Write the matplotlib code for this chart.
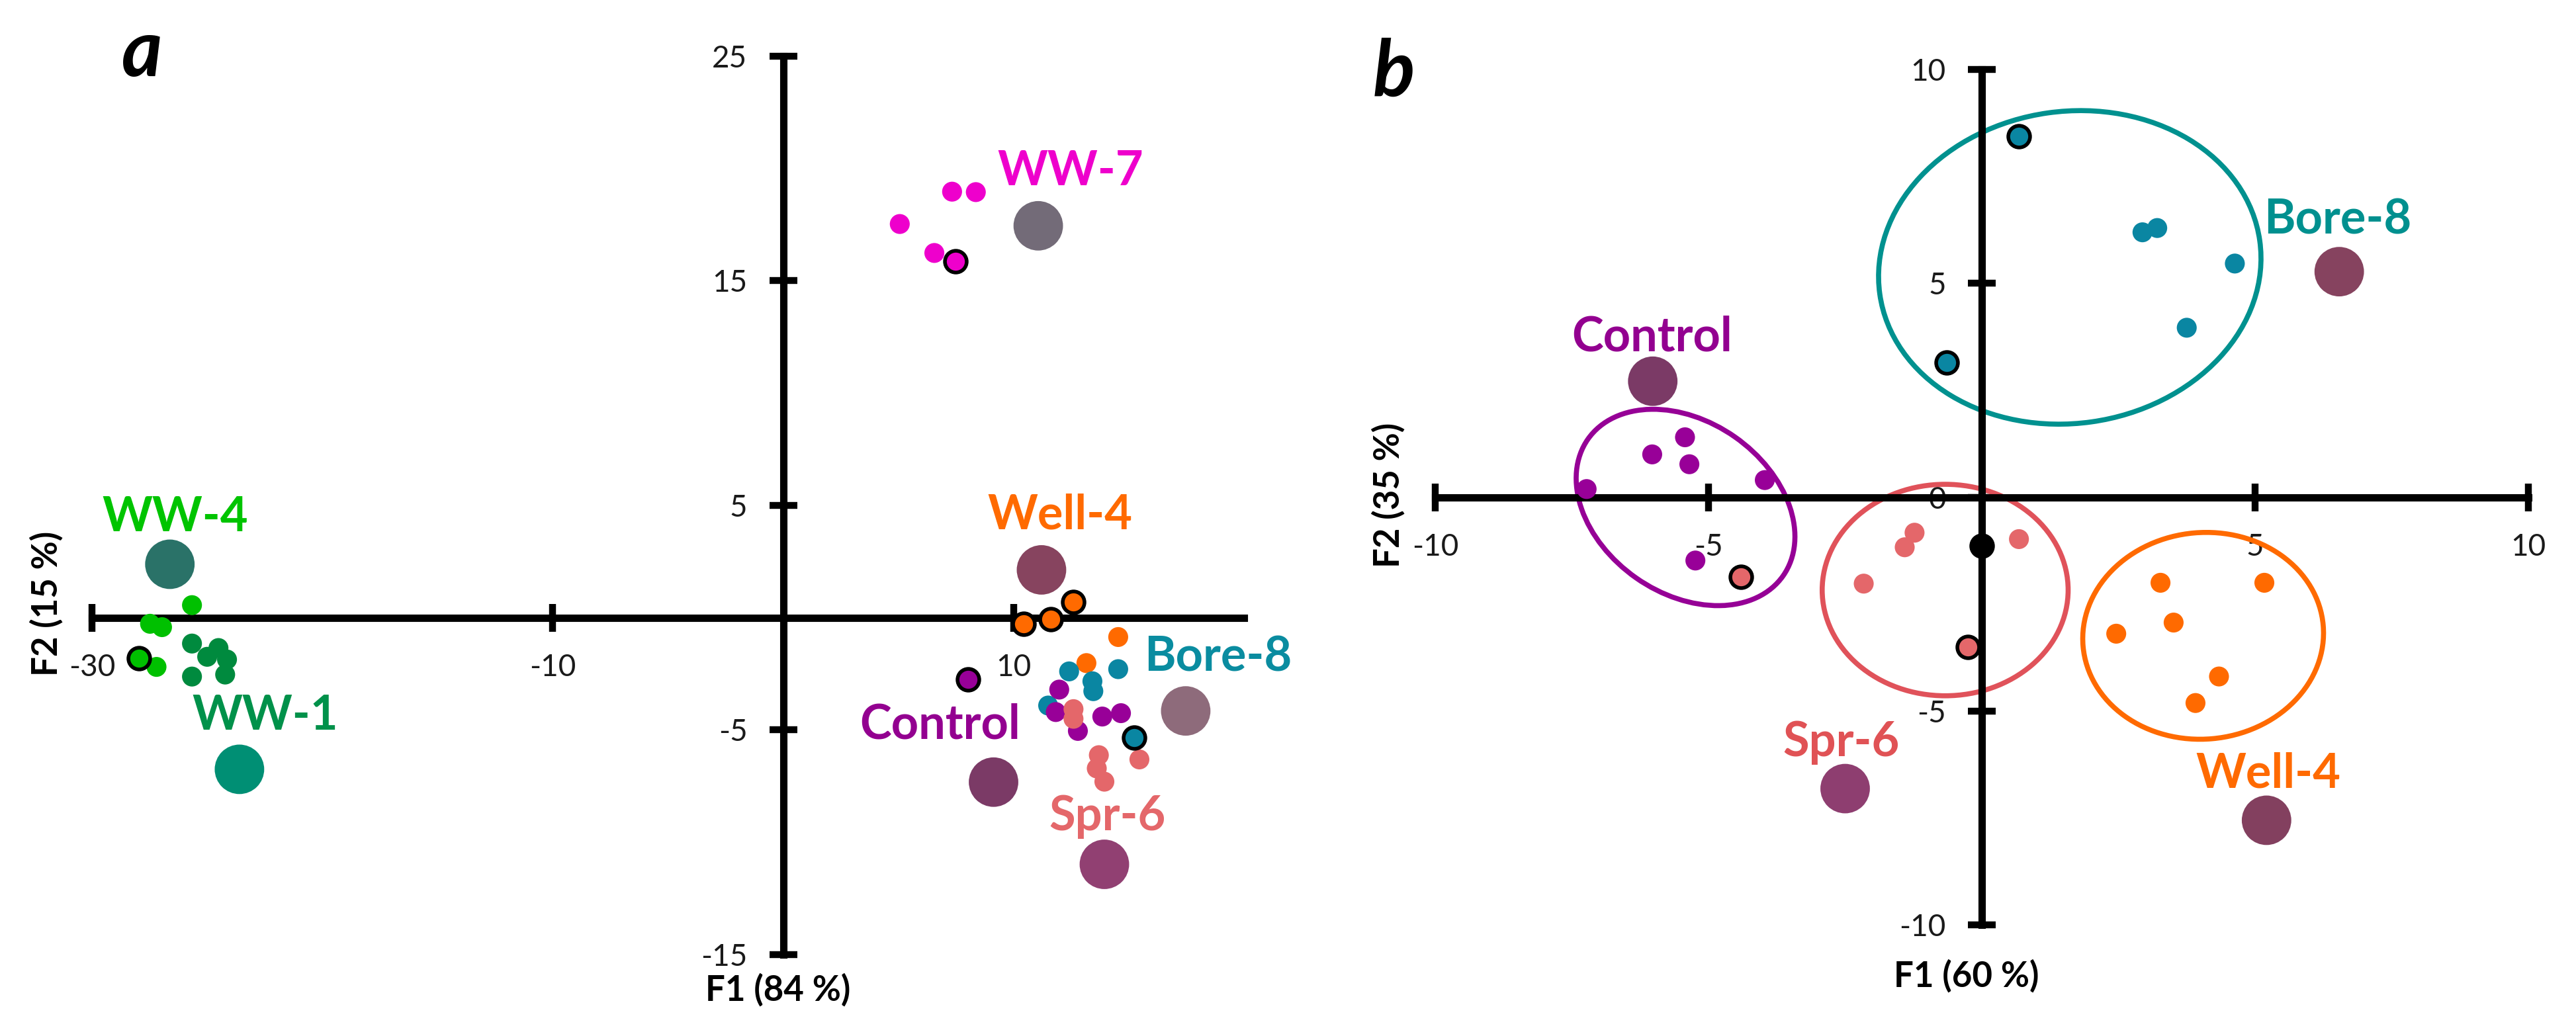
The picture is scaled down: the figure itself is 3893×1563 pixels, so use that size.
import matplotlib
matplotlib.use('Agg')
import matplotlib.pyplot as plt
from matplotlib.patches import Ellipse
import matplotlib.transforms as mtransforms

FONT = ['Lato', 'DejaVu Sans']
plt.rcParams['font.family'] = FONT

# ---------------- Panel a data (F1 84 %, F2 15 %) ----------------
a_groups = ['WW-7', 'WW-4', 'WW-1', 'Well-4', 'Bore-8', 'Control', 'Spr-6']
a_ww7_x = [7.33, 8.36, 5.06, 6.56]
a_ww7_y = [18.97, 18.95, 17.53, 16.24]
a_ww7_ex = [7.47]
a_ww7_ey = [15.88]
a_ww4_x = [-25.66, -27.48, -26.96, -27.20]
a_ww4_y = [0.56, -0.27, -0.42, -2.19]
a_ww4_ex = [-27.96]
a_ww4_ey = [-1.80]
a_ww1_x = [-25.66, -24.51, -25.00, -24.14, -25.66, -24.22]
a_ww1_y = [-1.15, -1.35, -1.74, -1.86, -2.62, -2.53]
a_ww1_ex = []
a_ww1_ey = []
a_well4_x = [14.54, 13.16]
a_well4_y = [-0.86, -2.02]
a_well4_ex = [10.44, 11.62, 12.58]
a_well4_ey = [-0.27, -0.08, 0.69]
a_bore8_x = [14.54, 12.41, 13.42, 13.46, 11.50]
a_bore8_y = [-2.29, -2.39, -2.83, -3.27, -3.91]
a_bore8_ex = [15.24]
a_bore8_ey = [-5.33]
a_ctrl_x = [11.98, 11.83, 12.79, 13.85, 14.66]
a_ctrl_y = [-3.20, -4.20, -5.04, -4.40, -4.25]
a_ctrl_ex = [8.02]
a_ctrl_ey = [-2.75]
a_spr6_x = [12.60, 12.60, 13.70, 13.61, 13.94, 15.46]
a_spr6_y = [-4.07, -4.50, -6.12, -6.71, -7.30, -6.31]
a_spr6_ex = []
a_spr6_ey = []
# reference (large) points
a_big_x = [11.07, -26.62, -23.60, 11.21, 17.47, 9.13, 13.94]
a_big_y = [17.45, 2.38, -6.75, 2.13, -4.15, -7.32, -10.98]
# group label anchors (left, baseline)
a_lab_x = [9.29, -29.55, -25.66, 8.86, 15.68, 3.31, 11.54]
a_lab_y = [19.26, 3.86, -4.98, 3.95, -2.39, -5.39, -9.46]
a_xticks = [-30, -10, 10]
a_yticks = [-15, -5, 5, 15, 25]

# ---------------- Panel b data (F1 60 %, F2 35 %) ----------------
b_groups = ['Control', 'Bore-8', 'Spr-6', 'Well-4']
b_ctrl_x = [-5.43, -6.03, -5.35, -3.97, -7.23, -5.24]
b_ctrl_y = [1.40, 1.00, 0.77, 0.40, 0.19, -1.48]
b_ctrl_ex = []
b_ctrl_ey = []
b_bore8_x = [2.94, 3.21, 4.63, 3.75]
b_bore8_y = [6.19, 6.29, 5.46, 3.96]
b_bore8_ex = [0.68, -0.64]
b_bore8_ey = [8.44, 3.14]
b_spr6_x = [0.68, -1.23, -1.41, -2.16]
b_spr6_y = [-0.98, -0.83, -1.17, -2.02]
b_spr6_ex = [-4.41, -0.26]
b_spr6_ey = [-1.86, -3.50]
b_dark_x = [0.0]
b_dark_y = [-1.13]
b_well4_x = [3.27, 5.17, 3.51, 2.46, 4.34, 3.91]
b_well4_y = [-2.00, -2.00, -2.93, -3.19, -4.19, -4.81]
b_well4_ex = []
b_well4_ey = []
b_big_x = [-6.02, 6.54, -2.50, 5.21]
b_big_y = [2.71, 5.27, -6.81, -7.55]
b_lab_x = [-7.50, 5.16, -3.64, 3.92]
b_lab_y = [3.42, 6.16, -6.05, -6.78]
# confidence ellipses: centre, full width / height (x-units), angle (deg)
b_ell_cx = [-5.42, 1.61, -0.67, 4.05]
b_ell_cy = [-0.24, 5.37, -2.17, -3.24]
b_ell_w = [4.36, 7.02, 4.50, 4.41]
b_ell_h = [3.15, 5.71, 3.87, 3.78]
b_ell_ang = [-35, 8, 0, 5]
b_xticks = [-10, -5, 5, 10]
b_yticks = [-10, -5, 0, 5, 10]

# ---------------- styles ----------------
C_WW7 = '#EE00CC'
C_WW4 = '#00C000'
C_WW1 = '#008A3E'
C_WELL = '#FF6A00'
C_BORE = '#0A86A2'
C_CTRL = '#980098'
C_SPR = '#E4676A'
a_dot_col = [C_WW7, C_WW4, C_WW1, C_WELL, C_BORE, C_CTRL, C_SPR]
a_lab_col = ['#EE00CC', '#00C400', '#00914A', '#FF6A00', '#0A8CA0', '#930090', '#E4676A']
a_big_col = ['#736B78', '#2A7268', '#008F74', '#87445F', '#8E6B7B', '#7B3A66', '#914072']
b_dot_col = [C_CTRL, C_BORE, C_SPR, C_WELL]
b_lab_col = ['#930090', '#00908F', '#E05255', '#FF6A00']
b_big_col = ['#7B3A66', '#86435F', '#8E3E70', '#83405F']
b_ell_col = ['#960096', '#00918F', '#E0525A', '#FF6A00']

DOT_S = 470
EDGE_S = 560
BIG_S = 2900

fig = plt.figure(figsize=(38.93, 15.63), dpi=100)
axa = fig.add_axes([0.03571, 0.07678, 0.44721, 0.86884])
axb = fig.add_axes([0.55715, 0.10531, 0.42435, 0.82771])


def setup(ax, xlim, ylim, xticks, yticks):
    ax.set_xlim(xlim)
    ax.set_ylim(ylim)
    ax.patch.set_alpha(0)
    for s in ['top', 'right']:
        ax.spines[s].set_visible(False)
    for s in ['left', 'bottom']:
        ax.spines[s].set_position(('data', 0))
        ax.spines[s].set_linewidth(8)
        ax.spines[s].set_color('black')
        ax.spines[s].set_zorder(2.5)
    ax.set_xticks(xticks)
    ax.set_yticks(yticks)
    ax.set_xticklabels([str(t) for t in xticks])
    ax.set_yticklabels([str(t) for t in yticks])
    ax.tick_params(direction='inout', length=30, width=7.5, pad=24,
                   labelsize=33, labelcolor='#1a1a1a', color='black')


setup(axa, (-30, 20), (-15, 25), a_xticks, a_yticks)
setup(axb, (-10, 10), (-10, 10), b_xticks, b_yticks)


def dots(ax, xs, ys, col, edge=False, face=None):
    if not xs:
        return
    if edge:
        ax.scatter(xs, ys, s=EDGE_S, c=face if face else col, edgecolors='black',
                   linewidths=4, zorder=5, clip_on=False)
    else:
        ax.scatter(xs, ys, s=DOT_S, c=col, edgecolors='none', zorder=4, clip_on=False)


# panel a points
a_plain = [(a_ww7_x, a_ww7_y), (a_ww4_x, a_ww4_y), (a_ww1_x, a_ww1_y),
           (a_well4_x, a_well4_y), (a_bore8_x, a_bore8_y), (a_ctrl_x, a_ctrl_y),
           (a_spr6_x, a_spr6_y)]
a_edge = [(a_ww7_ex, a_ww7_ey), (a_ww4_ex, a_ww4_ey), (a_ww1_ex, a_ww1_ey),
          (a_well4_ex, a_well4_ey), (a_bore8_ex, a_bore8_ey), (a_ctrl_ex, a_ctrl_ey),
          (a_spr6_ex, a_spr6_ey)]
for (xs, ys), col in zip(a_plain, a_dot_col):
    dots(axa, xs, ys, col)
for (xs, ys), col in zip(a_edge, a_dot_col):
    dots(axa, xs, ys, col, edge=True)
axa.scatter(a_big_x, a_big_y, s=BIG_S, c=a_big_col, edgecolors='none', zorder=4, clip_on=False)
for name, lx, ly, col in zip(a_groups, a_lab_x, a_lab_y, a_lab_col):
    axa.text(lx, ly, name, color=col, fontsize=52, fontweight='bold', ha='left',
             va='baseline', clip_on=False, zorder=6)

# panel b ellipses
ratio = (axb.bbox.width / 20.0) / (axb.bbox.height / 20.0)
for cx, cy, w, h, ang, col in zip(b_ell_cx, b_ell_cy, b_ell_w, b_ell_h, b_ell_ang, b_ell_col):
    e = Ellipse((0, 0), w, h, angle=ang, fill=False, edgecolor=col, linewidth=5.5, zorder=2)
    e.set_transform(mtransforms.Affine2D().scale(1, ratio).translate(cx, cy) + axb.transData)
    e.set_clip_on(False)
    axb.add_patch(e)

b_plain = [(b_ctrl_x, b_ctrl_y), (b_bore8_x, b_bore8_y), (b_spr6_x, b_spr6_y),
           (b_well4_x, b_well4_y)]
b_edge = [(b_ctrl_ex, b_ctrl_ey), (b_bore8_ex, b_bore8_ey), (b_spr6_ex, b_spr6_ey),
          (b_well4_ex, b_well4_ey)]
for (xs, ys), col in zip(b_plain, b_dot_col):
    dots(axb, xs, ys, col)
for (xs, ys), col in zip(b_edge, b_dot_col):
    dots(axb, xs, ys, col, edge=True)
dots(axb, b_dark_x, b_dark_y, C_SPR, edge=True, face='black')
axb.scatter(b_big_x, b_big_y, s=BIG_S, c=b_big_col, edgecolors='none', zorder=4, clip_on=False)
for name, lx, ly, col in zip(b_groups, b_lab_x, b_lab_y, b_lab_col):
    axb.text(lx, ly, name, color=col, fontsize=52, fontweight='bold', ha='left',
             va='baseline', clip_on=False, zorder=6)

# axis titles
fig.text(0.3021, 0.0429, 'F1 (84 %)', fontsize=38, fontweight='bold', ha='center', va='center')
fig.text(0.0180, 0.4160, 'F2 (15 %)', fontsize=38, fontweight='bold', ha='center', va='center',
         rotation=90)
fig.text(0.7634, 0.0563, 'F1 (60 %)', fontsize=38, fontweight='bold', ha='center', va='center')
fig.text(0.5389, 0.5214, 'F2 (35 %)', fontsize=38, fontweight='bold', ha='center', va='center',
         rotation=90)

# panel letters
fig.text(0.0473, 0.9264, 'a', fontsize=85, fontweight='bold', fontstyle='italic',
         ha='left', va='baseline')
fig.text(0.5328, 0.9072, 'b', fontsize=85, fontweight='bold', fontstyle='italic',
         ha='left', va='baseline')

fig.savefig('out.png', dpi=100, facecolor='white')
